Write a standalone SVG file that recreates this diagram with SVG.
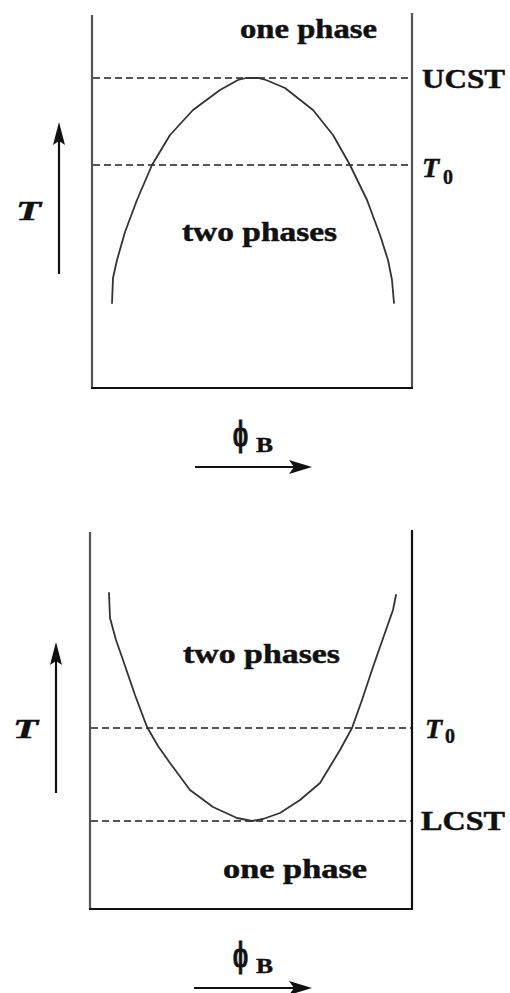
<svg xmlns="http://www.w3.org/2000/svg" width="510" height="993" viewBox="0 0 510 993">
<defs>
<style>
.frame{stroke:#555;stroke-width:2.2;fill:none}
.base{stroke:#111;stroke-width:2.2;fill:none}
.dash{stroke:#555;stroke-width:2.2;stroke-dasharray:7 4;fill:none}
.curve{stroke:#333;stroke-width:1.8;fill:none;stroke-linejoin:round;stroke-linecap:round}
.axis{stroke:#111;stroke-width:2.2;fill:none}
.head{fill:#111}
.lbl{font-family:"Liberation Serif","DejaVu Serif",serif;font-weight:bold;font-size:28px;fill:#111;stroke:#111;stroke-width:0.5}
.it{font-style:italic}
.sub{font-family:"Liberation Serif","DejaVu Serif",serif;font-weight:bold;font-size:20px;fill:#111;stroke:#111;stroke-width:0.4}
.phi{font-family:"DejaVu Serif","Liberation Serif",serif;font-weight:bold;font-size:34px;fill:#111;stroke:#111;stroke-width:1.2}
</style>
</defs>
<rect width="510" height="993" fill="#fff"/>

<g id="ucst-diagram">
  <g id="ucst-frame">
    <line class="frame" x1="92" y1="15" x2="92" y2="388"/>
    <line class="frame" x1="412" y1="13" x2="412" y2="388"/>
    <line class="base" x1="91" y1="388" x2="413" y2="388"/>
  </g>
  <g id="ucst-lines">
    <line class="dash" x1="93" y1="78" x2="411" y2="78"/>
    <line class="dash" x1="93" y1="165" x2="411" y2="165"/>
  </g>
  <g id="ucst-curve">
    <polyline class="curve" points="112,303 113,278 117,260 125,232 137,200 152,165 170,135 193,110 220,90 238,80 246,78 258,78 266,80 285,88 313,110 333,135 350,165 367,200 380,235 388,260 392,280 394,303"/>
  </g>
  <g id="ucst-labels">
    <text class="lbl" x="240" y="38" textLength="137" lengthAdjust="spacingAndGlyphs">one phase</text>
    <text class="lbl" x="182" y="241" textLength="155" lengthAdjust="spacingAndGlyphs">two phases</text>
    <text class="lbl" x="422" y="88" textLength="83" lengthAdjust="spacingAndGlyphs">UCST</text>
    <text class="lbl it" x="422" y="177">T</text>
    <text class="sub" x="443" y="184">0</text>
    <text class="lbl it" x="16" y="220" textLength="25" lengthAdjust="spacingAndGlyphs">T</text>
    <text class="phi" x="233" y="446" textLength="15" lengthAdjust="spacingAndGlyphs">ϕ</text>
    <text class="sub" x="256" y="452" textLength="17" lengthAdjust="spacingAndGlyphs">B</text>
  </g>
  <g id="ucst-axes">
    <line class="axis" x1="59" y1="274" x2="59" y2="140"/>
    <polygon class="head" points="59,122 65,145 59,141 53,145"/>
    <line class="axis" x1="195" y1="467" x2="296" y2="467"/>
    <polygon class="head" points="312,467 289,460 294,467 289,474"/>
  </g>
</g>

<g id="lcst-diagram">
  <g id="lcst-frame">
    <line class="frame" x1="90" y1="532" x2="90" y2="909"/>
    <line class="base" x1="412" y1="530" x2="412" y2="909"/>
    <line class="base" x1="89" y1="909" x2="413" y2="909"/>
  </g>
  <g id="lcst-lines">
    <line class="dash" x1="91" y1="728" x2="411" y2="728"/>
    <line class="dash" x1="91" y1="821" x2="411" y2="821"/>
  </g>
  <g id="lcst-curve">
    <polyline class="curve" points="109,593 110,618 116,640 123,660 135,695 147,727 158,746 170,763 190,790 213,807 237,818 252,821 263,819 280,813 300,800 320,783 340,750 352,728 362,700 373,667 387,627 393,610 396,595"/>
  </g>
  <g id="lcst-labels">
    <text class="lbl" x="183" y="663" textLength="157" lengthAdjust="spacingAndGlyphs">two phases</text>
    <text class="lbl" x="223" y="878" textLength="144" lengthAdjust="spacingAndGlyphs">one phase</text>
    <text class="lbl" x="421" y="830" textLength="84" lengthAdjust="spacingAndGlyphs">LCST</text>
    <text class="lbl it" x="425" y="738">T</text>
    <text class="sub" x="445" y="743">0</text>
    <text class="lbl it" x="13" y="738" textLength="25" lengthAdjust="spacingAndGlyphs">T</text>
    <text class="phi" x="233" y="967" textLength="15" lengthAdjust="spacingAndGlyphs">ϕ</text>
    <text class="sub" x="256" y="973" textLength="17" lengthAdjust="spacingAndGlyphs">B</text>
  </g>
  <g id="lcst-axes">
    <line class="axis" x1="56" y1="793" x2="56" y2="660"/>
    <polygon class="head" points="56,642 62,665 56,661 50,665"/>
    <line class="axis" x1="194" y1="988" x2="296" y2="988"/>
    <polygon class="head" points="312,988 289,981 294,988 289,995"/>
  </g>
</g>
</svg>
